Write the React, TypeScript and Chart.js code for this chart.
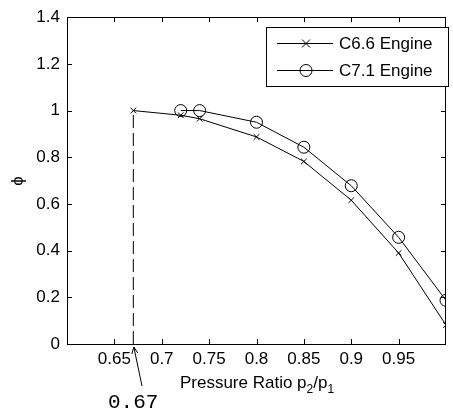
import React, { useEffect, useRef } from "react";
import { Chart, registerables } from "chart.js";

Chart.register(...registerables);

const c66X = [0.67, 0.72, 0.74, 0.8, 0.85, 0.9, 0.95, 1.0];
const c66Y = [1.0, 0.98, 0.965, 0.887, 0.782, 0.616, 0.39, 0.081];
const c71X = [0.72, 0.74, 0.8, 0.85, 0.9, 0.95, 1.0];
const c71Y = [1.0, 1.0, 0.95, 0.843, 0.678, 0.457, 0.187];
const markerX = 0.67;
const markerY = [0, 1.0];
const xTicks = [0.65, 0.7, 0.75, 0.8, 0.85, 0.9, 0.95];
const yTicks = [0, 0.2, 0.4, 0.6, 0.8, 1, 1.2, 1.4];
const seriesNames = ["C6.6 Engine", "C7.1 Engine"];
const annotationLabel = "0.67";

const FONT = "'Liberation Sans', Arial, sans-serif";

const decor = {
  id: "decor",
  afterDraw(chart: any) {
    const ctx = chart.ctx as CanvasRenderingContext2D;
    const { left, right, top, bottom } = chart.chartArea;
    const xs = chart.scales.x;
    const ys = chart.scales.y;
    ctx.save();
    ctx.strokeStyle = "#000";
    ctx.fillStyle = "#000";
    ctx.lineWidth = 1;
    // frame
    ctx.strokeRect(Math.round(left) + 0.5, Math.round(top) + 0.5, Math.round(right - left) - 1, Math.round(bottom - top));
    // inward ticks
    const tl = 5;
    ctx.beginPath();
    for (const v of xTicks) {
      const px = Math.round(xs.getPixelForValue(v)) + 0.5;
      ctx.moveTo(px, bottom);
      ctx.lineTo(px, bottom - tl);
      ctx.moveTo(px, top);
      ctx.lineTo(px, top + tl);
    }
    for (const v of yTicks) {
      const py = Math.round(ys.getPixelForValue(v)) + 0.5;
      ctx.moveTo(left, py);
      ctx.lineTo(left + tl, py);
      ctx.moveTo(right, py);
      ctx.lineTo(right - tl, py);
    }
    ctx.stroke();

    // legend
    const lx = 266.5, ly = 27.5, lw = 182, lh = 59;
    ctx.fillStyle = "#fff";
    ctx.fillRect(lx, ly, lw, lh);
    ctx.strokeRect(lx, ly, lw, lh);
    ctx.fillStyle = "#000";
    const rows = [43.5, 70.5];
    rows.forEach((ry, i) => {
      ctx.beginPath();
      ctx.moveTo(277, ry);
      ctx.lineTo(333, ry);
      ctx.stroke();
      ctx.beginPath();
      if (i === 0) {
        ctx.moveTo(302, ry - 4);
        ctx.lineTo(310, ry + 4);
        ctx.moveTo(310, ry - 4);
        ctx.lineTo(302, ry + 4);
      } else {
        ctx.arc(306, ry, 6, 0, Math.PI * 2);
      }
      ctx.stroke();
      ctx.font = `17px ${FONT}`;
      ctx.textBaseline = "middle";
      ctx.textAlign = "left";
      ctx.fillText(seriesNames[i], 339, ry + 1);
    });

    // x title with subscripts
    const parts: [string, boolean][] = [["Pressure Ratio p", false], ["2", true], ["/p", false], ["1", true]];
    const big = `17px ${FONT}`;
    const small = `12px ${FONT}`;
    let total = 0;
    for (const [t, sub] of parts) {
      ctx.font = sub ? small : big;
      total += ctx.measureText(t).width;
    }
    let cx = 257 - total / 2;
    const base = 388;
    ctx.textBaseline = "alphabetic";
    for (const [t, sub] of parts) {
      ctx.font = sub ? small : big;
      ctx.fillText(t, cx, sub ? base + 5 : base);
      cx += ctx.measureText(t).width;
    }

    // y title
    ctx.save();
    ctx.translate(18, 181);
    ctx.rotate(-Math.PI / 2);
    ctx.font = `17px ${FONT}`;
    ctx.textAlign = "center";
    ctx.textBaseline = "middle";
    ctx.fillText("\u03D5", 0, 0);
    ctx.restore();

    // annotation
    const ax = xs.getPixelForValue(markerX);
    ctx.font = `21px 'Liberation Mono', 'Courier New', monospace`;
    ctx.textAlign = "left";
    ctx.textBaseline = "alphabetic";
    ctx.fillText(annotationLabel, 108, 408);
    ctx.beginPath();
    ctx.moveTo(142, 386);
    ctx.lineTo(ax + 0.5, bottom + 3);
    ctx.stroke();
    ctx.beginPath();
    ctx.moveTo(ax + 0.5, bottom + 3);
    ctx.lineTo(ax - 1.5, bottom + 10);
    ctx.moveTo(ax + 0.5, bottom + 3);
    ctx.lineTo(ax + 4.5, bottom + 9);
    ctx.stroke();
    ctx.restore();
  },
};

export default function App() {
  const ref = useRef<HTMLCanvasElement>(null);
  useEffect(() => {
    document.body.style.margin = "0";
    const chart = new Chart(ref.current!, {
      type: "line",
      data: {
        datasets: [
          {
            label: seriesNames[0],
            data: c66X.map((x, i) => ({ x, y: c66Y[i] })),
            borderColor: "#000",
            borderWidth: 1,
            pointStyle: "crossRot",
            pointRadius: 4,
            pointBorderColor: "#000",
            pointBorderWidth: 1,
            backgroundColor: "transparent",
          },
          {
            label: seriesNames[1],
            data: c71X.map((x, i) => ({ x, y: c71Y[i] })),
            borderColor: "#000",
            borderWidth: 1,
            pointStyle: "circle",
            pointRadius: 6,
            pointBorderColor: "#000",
            pointBorderWidth: 1,
            pointBackgroundColor: "transparent",
            backgroundColor: "transparent",
          },
          {
            label: "marker",
            data: markerY.map((y) => ({ x: markerX, y })),
            borderColor: "#000",
            borderWidth: 1,
            borderDash: [13, 5],
            pointRadius: 0,
          },
        ],
      },
      options: {
        animation: false,
        responsive: true,
        maintainAspectRatio: false,
        layout: { padding: { left: 0, top: 17, right: 1, bottom: 0 } },
        plugins: { legend: { display: false }, tooltip: { enabled: false } },
        scales: {
          x: {
            type: "linear",
            min: 0.6,
            max: 1.0,
            grid: { display: false, drawTicks: false },
            border: { display: false },
            afterBuildTicks: (s: any) => {
              s.ticks = xTicks.map((v) => ({ value: v }));
            },
            afterFit: (s: any) => {
              s.height = 66;
            },
            ticks: {
              color: "#000",
              font: { family: FONT, size: 17 },
              padding: 5,
              maxRotation: 0,
              autoSkip: false,
              callback: (v: any) => String(Number(v)),
            },
          },
          y: {
            type: "linear",
            min: 0,
            max: 1.4,
            grid: { display: false, drawTicks: false },
            border: { display: false },
            afterBuildTicks: (s: any) => {
              s.ticks = yTicks.map((v) => ({ value: v }));
            },
            afterFit: (s: any) => {
              s.width = 67;
            },
            ticks: {
              color: "#000",
              font: { family: FONT, size: 17 },
              padding: 7,
              autoSkip: false,
              callback: (v: any) => String(Number(v)),
            },
          },
        },
      },
      plugins: [decor],
    });
    return () => chart.destroy();
  }, []);
  return (
    <div style={{ width: 453, height: 410, position: "relative" }}>
      <canvas ref={ref} />
    </div>
  );
}
